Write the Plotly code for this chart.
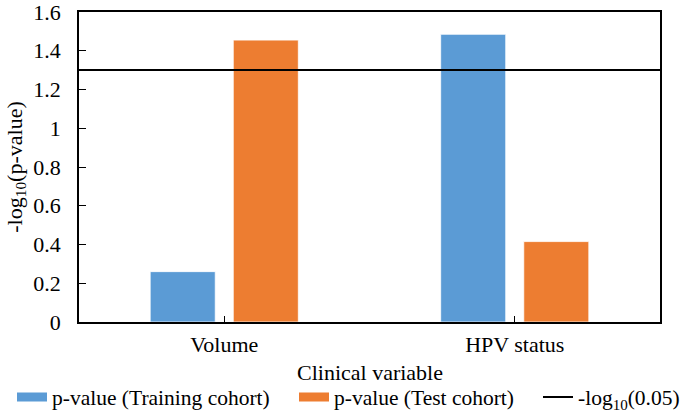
import plotly.graph_objects as go

categories = ["Volume", "HPV status"]
training = [0.26, 1.485]
test = [1.455, 0.415]
threshold = 1.30103
y_ticks = [0, 0.2, 0.4, 0.6, 0.8, 1, 1.2, 1.4, 1.6]
y_tick_labels = ["0", "0.2", "0.4", "0.6", "0.8", "1", "1.2", "1.4", "1.6"]
x_title = "Clinical variable"

FONT = "Liberation Serif, Times New Roman, serif"
FS = 22
LFS = 21.5
W, H = 685, 412
TOP, BOTTOM = 12, 90
BLUE, ORANGE = "#5B9BD5", "#ED7D31"

fig = go.Figure()
fig.add_trace(go.Bar(x=categories, y=training, name="p-value (Training cohort)",
                     showlegend=False,
                     marker=dict(color=BLUE, line=dict(color="white", width=0.8))))
fig.add_trace(go.Bar(x=categories, y=test, name="p-value (Test cohort)",
                     showlegend=False,
                     marker=dict(color=ORANGE, line=dict(color="white", width=0.8))))
# legend swatches (wide rectangles, as in the reference)
fig.add_trace(go.Scatter(x=[None], y=[None], mode="lines", name="p-value (Training cohort)",
                         legend="legend", line=dict(color=BLUE, width=9)))
fig.add_trace(go.Scatter(x=[None], y=[None], mode="lines", name="p-value (Test cohort)",
                         legend="legend2", line=dict(color=ORANGE, width=9)))
fig.add_trace(go.Scatter(x=[0, 1], y=[threshold, threshold], mode="lines",
                         name="-log<sub>10</sub>(0.05)", xaxis="x2", legend="legend3",
                         line=dict(color="black", width=2)))

def leg(px_left):
    return dict(orientation="h", xref="container", yref="container",
                x=px_left / W, xanchor="left", y=(H - 397) / H, yanchor="middle",
                font=dict(size=LFS, family=FONT), itemwidth=30,
                bgcolor="rgba(0,0,0,0)")

plot_h = H - TOP - BOTTOM
fig.update_layout(
    width=W, height=H,
    margin=dict(l=79, r=25, t=TOP, b=BOTTOM, autoexpand=False),
    paper_bgcolor="white", plot_bgcolor="white",
    font=dict(family=FONT, size=FS, color="black"),
    barmode="group", bargap=0.428, bargroupgap=0.217,
    showlegend=True,
    legend=leg(12), legend2=leg(294), legend3=leg(538),
    annotations=[dict(text=x_title, xref="paper", yref="paper", x=0.5,
                      y=-(372 - (H - BOTTOM)) / plot_h, xanchor="center", yanchor="middle",
                      showarrow=False, font=dict(size=FS, family=FONT))],
    xaxis=dict(showline=True, linecolor="black", linewidth=1.5, mirror=True,
               ticks="inside", ticklen=6, tickcolor="black", showgrid=False,
               range=[-0.5, 1.5], automargin=False, ticklabelstandoff=2),
    xaxis2=dict(overlaying="x", range=[0, 1], visible=False),
    yaxis=dict(showline=True, linecolor="black", linewidth=1.5, mirror=True,
               ticks="inside", ticklen=7, tickcolor="black", showgrid=False,
               range=[0, 1.6], tickvals=y_ticks, ticktext=y_tick_labels,
               ticklabelstandoff=12, automargin=True, ticklabeloverflow="allow",
               title=dict(text="-log<sub>10</sub>(p-value)", standoff=5, font=dict(size=FS))),
)

fig.write_html("out.html", config={"displayModeBar": False},
               post_script="document.body.style.margin='0';document.body.style.padding='0';")
